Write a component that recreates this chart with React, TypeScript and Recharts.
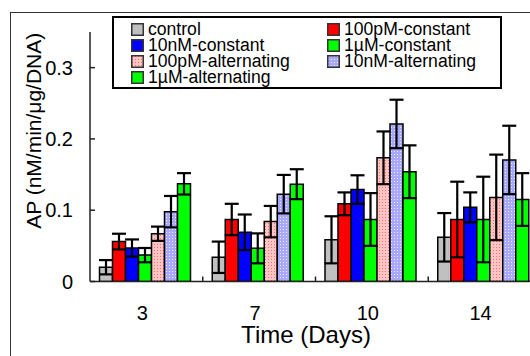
import React from "react";
import { BarChart, Bar, XAxis, YAxis, ErrorBar } from "recharts";

const days = ["3", "7", "10", "14"];
const yTicks = [0, 0.1, 0.2, 0.3];

const seriesNames = [
  "control",
  "100pM-constant",
  "10nM-constant",
  "1µM-constant",
  "100pM-alternating",
  "10nM-alternating",
  "1µM-alternating",
];

const control = [0.02, 0.034, 0.0585, 0.062];
const controlSd = [0.01, 0.022, 0.033, 0.034];
const pM100Const = [0.056, 0.087, 0.109, 0.087];
const pM100ConstSd = [0.011, 0.022, 0.016, 0.053];
const nM10Const = [0.047, 0.069, 0.129, 0.104];
const nM10ConstSd = [0.012, 0.025, 0.02, 0.021];
const uM1Const = [0.037, 0.0465, 0.087, 0.087];
const uM1ConstSd = [0.01, 0.021, 0.037, 0.06];
const pM100Alt = [0.067, 0.084, 0.1735, 0.118];
const pM100AltSd = [0.01, 0.022, 0.037, 0.06];
const nM10Alt = [0.098, 0.1225, 0.221, 0.1705];
const nM10AltSd = [0.022, 0.027, 0.034, 0.048];
const uM1Alt = [0.137, 0.1365, 0.154, 0.115];
const uM1AltSd = [0.015, 0.021, 0.037, 0.037];

const means = [control, pM100Const, nM10Const, uM1Const, pM100Alt, nM10Alt, uM1Alt];
const sds = [controlSd, pM100ConstSd, nM10ConstSd, uM1ConstSd, pM100AltSd, nM10AltSd, uM1AltSd];
const fills = [
  "#c0c0c0",
  "#ff0000",
  "#0000ff",
  "#00ff00",
  "url(#pinkDots)",
  "url(#blueDots)",
  "#00ff00",
];

const data = days.map((d, i) => {
  const row: Record<string, string | number> = { day: d };
  seriesNames.forEach((_, s) => {
    row[`s${s}`] = means[s][i];
    row[`e${s}`] = sds[s][i];
  });
  return row;
});

const FONT = "'Liberation Sans', Arial, sans-serif";

function XTick(props: any) {
  const { x, y, payload, index, width, visibleTicksCount } = props;
  const bw = width / visibleTicksCount;
  return (
    <g>
      {index > 0 && (
        <line x1={x - bw / 2} x2={x - bw / 2} y1={y} y2={y - 5} stroke="#222" strokeWidth={1.5} />
      )}
      <text x={x - 4} y={y + 38} textAnchor="middle" fontSize={20} fontFamily={FONT} fill="#000">
        {payload.value}
      </text>
    </g>
  );
}

function YTick(props: any) {
  const { x, y, payload } = props;
  return (
    <g>
      <line x1={x} x2={x + 5} y1={y} y2={y} stroke="#222" strokeWidth={1.5} />
      <text x={x - 17} y={y} dy="0.355em" textAnchor="end" fontSize={20} fontFamily={FONT} fill="#000">
        {payload.value}
      </text>
    </g>
  );
}

function LegendBox() {
  return (
    <div
      style={{
        position: "absolute",
        left: 112,
        top: 16,
        boxSizing: "border-box",
        width: 390,
        height: 73,
        border: "2px solid #000",
        background: "#fff",
        padding: "3px 0 0 17px",
        display: "grid",
        gridTemplateColumns: "196px 172px",
        gridAutoRows: "16px",
        fontFamily: FONT,
        fontSize: 17.6,
        lineHeight: "16px",
        color: "#000",
      }}
    >
      {seriesNames.map((name, i) => (
        <div key={name} style={{ display: "flex", alignItems: "center", whiteSpace: "nowrap" }}>
          <svg width={13} height={13} style={{ marginRight: 4, flex: "none" }}>
            <rect x={0.75} y={0.75} width={11.5} height={11.5} fill={fills[i]} stroke="#333" strokeWidth={1.5} />
          </svg>
          {name}
        </div>
      ))}
    </div>
  );
}

export default function App() {
  return (
    <div
      style={{
        position: "absolute",
        left: 0,
        top: 0,
        width: 530,
        height: 356,
        overflow: "hidden",
        background: "#fff",
      }}
    >
      <div
        style={{
          position: "absolute",
          left: 10,
          top: 12,
          width: 700,
          height: 500,
          borderLeft: "1.5px solid #333",
          borderTop: "1.5px solid #333",
        }}
      />
      <BarChart
        width={560}
        height={356}
        data={data}
        margin={{ top: 32, right: 19, left: 0, bottom: 0 }}
        barCategoryGap={9.5}
        barGap={0}
        style={{ position: "absolute", left: 0, top: 0 }}
      >
        <defs>
          <pattern id="pinkDots" width={3} height={3} patternUnits="userSpaceOnUse">
            <rect width={3} height={3} fill="#ffc4c4" />
            <rect x={1} y={1} width={1} height={1} fill="#ff6a6a" />
          </pattern>
          <pattern id="blueDots" width={3} height={3} patternUnits="userSpaceOnUse">
            <rect width={3} height={3} fill="#a8a8ff" />
            <rect x={1} y={1} width={1} height={1} fill="#ececff" />
          </pattern>
        </defs>
        <XAxis
          dataKey="day"
          height={74.5}
          tickSize={0}
          tickMargin={0}
          tickLine={false}
          tick={<XTick />}
          axisLine={{ stroke: "#222", strokeWidth: 1.5 }}
          label={{
            content: ({ viewBox }: any) => (
              <text
                x={viewBox.x + viewBox.width / 2 - 9.5}
                y={viewBox.y + 61.5}
                textAnchor="middle"
                fontSize={24}
                fontFamily={FONT}
                fill="#000"
              >
                Time (Days)
              </text>
            ),
          }}
        />
        <XAxis
          xAxisId="top"
          dataKey="day"
          orientation="top"
          height={0}
          tick={false}
          tickLine={false}
          axisLine={{ stroke: "#333", strokeWidth: 1.5 }}
        />
        <YAxis
          width={90}
          domain={[0, 0.35]}
          ticks={yTicks}
          tickSize={0}
          tickMargin={0}
          tickLine={false}
          tick={<YTick />}
          allowDataOverflow
          axisLine={{ stroke: "#222", strokeWidth: 1.5 }}
          label={{
            content: ({ viewBox }: any) => {
              const cx = 33;
              const cy = viewBox.y + viewBox.height / 2 - 26;
              return (
                <text
                  x={cx}
                  y={cy}
                  transform={`rotate(-90 ${cx} ${cy})`}
                  textAnchor="middle"
                  dominantBaseline="central"
                  fontSize={21}
                  fontFamily={FONT}
                  fill="#000"
                >
                  AP (nM/min/μg/DNA)
                </text>
              );
            },
          }}
        />
        {seriesNames.map((name, s) => (
          <Bar
            key={name}
            name={name}
            dataKey={`s${s}`}
            fill={fills[s]}
            stroke="#000"
            strokeWidth={1.5}
            isAnimationActive={false}
          >
            <ErrorBar dataKey={`e${s}`} width={7} stroke="#000" strokeWidth={2.2} isAnimationActive={false} />
          </Bar>
        ))}
      </BarChart>
      <LegendBox />
    </div>
  );
}
